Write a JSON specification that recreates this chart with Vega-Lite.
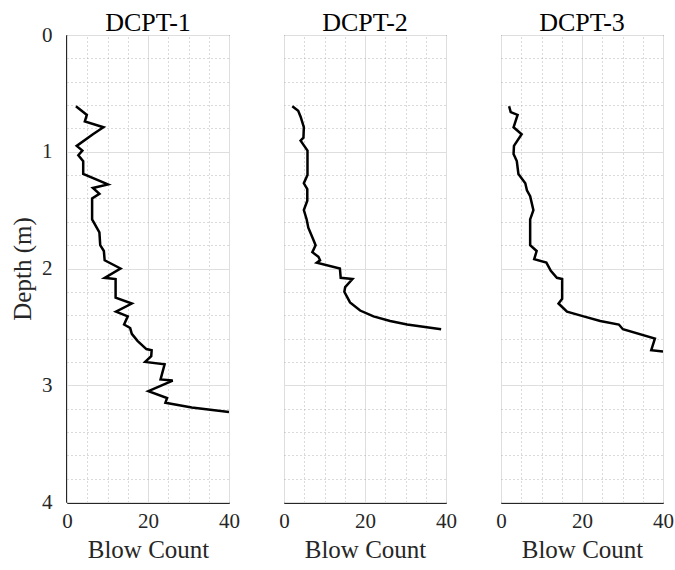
{
  "$schema": "https://vega.github.io/schema/vega-lite/v6.json",
  "background": "white",
  "padding": {"left": 10, "top": 10, "right": 2, "bottom": 2},
  "data": {"values": [
    {"probe": "DCPT-1", "i": 0, "v": 2.2, "d": 0.61},
    {"probe": "DCPT-1", "i": 1, "v": 4.0, "d": 0.66},
    {"probe": "DCPT-1", "i": 2, "v": 4.9, "d": 0.685},
    {"probe": "DCPT-1", "i": 3, "v": 4.4, "d": 0.74},
    {"probe": "DCPT-1", "i": 4, "v": 9.0, "d": 0.79},
    {"probe": "DCPT-1", "i": 5, "v": 6.4, "d": 0.85},
    {"probe": "DCPT-1", "i": 6, "v": 2.4, "d": 0.95},
    {"probe": "DCPT-1", "i": 7, "v": 3.8, "d": 0.99},
    {"probe": "DCPT-1", "i": 8, "v": 2.8, "d": 1.03},
    {"probe": "DCPT-1", "i": 9, "v": 4.0, "d": 1.08},
    {"probe": "DCPT-1", "i": 10, "v": 4.0, "d": 1.19},
    {"probe": "DCPT-1", "i": 11, "v": 10.1, "d": 1.28},
    {"probe": "DCPT-1", "i": 12, "v": 6.4, "d": 1.31},
    {"probe": "DCPT-1", "i": 13, "v": 8.0, "d": 1.36},
    {"probe": "DCPT-1", "i": 14, "v": 6.2, "d": 1.40},
    {"probe": "DCPT-1", "i": 15, "v": 6.2, "d": 1.58},
    {"probe": "DCPT-1", "i": 16, "v": 8.0, "d": 1.69},
    {"probe": "DCPT-1", "i": 17, "v": 8.2, "d": 1.80},
    {"probe": "DCPT-1", "i": 18, "v": 9.1, "d": 1.85},
    {"probe": "DCPT-1", "i": 19, "v": 9.3, "d": 1.93},
    {"probe": "DCPT-1", "i": 20, "v": 13.2, "d": 2.00},
    {"probe": "DCPT-1", "i": 21, "v": 9.3, "d": 2.08},
    {"probe": "DCPT-1", "i": 22, "v": 12.0, "d": 2.09},
    {"probe": "DCPT-1", "i": 23, "v": 12.0, "d": 2.25},
    {"probe": "DCPT-1", "i": 24, "v": 16.0, "d": 2.30},
    {"probe": "DCPT-1", "i": 25, "v": 12.1, "d": 2.37},
    {"probe": "DCPT-1", "i": 26, "v": 15.0, "d": 2.41},
    {"probe": "DCPT-1", "i": 27, "v": 14.1, "d": 2.48},
    {"probe": "DCPT-1", "i": 28, "v": 15.6, "d": 2.51},
    {"probe": "DCPT-1", "i": 29, "v": 16.0, "d": 2.56},
    {"probe": "DCPT-1", "i": 30, "v": 17.4, "d": 2.62},
    {"probe": "DCPT-1", "i": 31, "v": 19.6, "d": 2.69},
    {"probe": "DCPT-1", "i": 32, "v": 20.9, "d": 2.70},
    {"probe": "DCPT-1", "i": 33, "v": 20.8, "d": 2.75},
    {"probe": "DCPT-1", "i": 34, "v": 19.3, "d": 2.80},
    {"probe": "DCPT-1", "i": 35, "v": 24.1, "d": 2.82},
    {"probe": "DCPT-1", "i": 36, "v": 23.1, "d": 2.95},
    {"probe": "DCPT-1", "i": 37, "v": 26.1, "d": 2.96},
    {"probe": "DCPT-1", "i": 38, "v": 20.1, "d": 3.05},
    {"probe": "DCPT-1", "i": 39, "v": 24.7, "d": 3.11},
    {"probe": "DCPT-1", "i": 40, "v": 24.3, "d": 3.15},
    {"probe": "DCPT-1", "i": 41, "v": 30.8, "d": 3.19},
    {"probe": "DCPT-1", "i": 42, "v": 40.0, "d": 3.23},
    {"probe": "DCPT-2", "i": 0, "v": 2.05, "d": 0.61},
    {"probe": "DCPT-2", "i": 1, "v": 3.5, "d": 0.65},
    {"probe": "DCPT-2", "i": 2, "v": 4.1, "d": 0.70},
    {"probe": "DCPT-2", "i": 3, "v": 4.9, "d": 0.79},
    {"probe": "DCPT-2", "i": 4, "v": 4.8, "d": 0.88},
    {"probe": "DCPT-2", "i": 5, "v": 4.1, "d": 0.905},
    {"probe": "DCPT-2", "i": 6, "v": 5.8, "d": 0.99},
    {"probe": "DCPT-2", "i": 7, "v": 5.8, "d": 1.20},
    {"probe": "DCPT-2", "i": 8, "v": 4.9, "d": 1.27},
    {"probe": "DCPT-2", "i": 9, "v": 5.75, "d": 1.32},
    {"probe": "DCPT-2", "i": 10, "v": 5.75, "d": 1.42},
    {"probe": "DCPT-2", "i": 11, "v": 4.9, "d": 1.50},
    {"probe": "DCPT-2", "i": 12, "v": 5.6, "d": 1.58},
    {"probe": "DCPT-2", "i": 13, "v": 6.0, "d": 1.65},
    {"probe": "DCPT-2", "i": 14, "v": 7.2, "d": 1.75},
    {"probe": "DCPT-2", "i": 15, "v": 7.8, "d": 1.80},
    {"probe": "DCPT-2", "i": 16, "v": 7.0, "d": 1.86},
    {"probe": "DCPT-2", "i": 17, "v": 8.5, "d": 1.90},
    {"probe": "DCPT-2", "i": 18, "v": 8.9, "d": 1.93},
    {"probe": "DCPT-2", "i": 19, "v": 8.1, "d": 1.95},
    {"probe": "DCPT-2", "i": 20, "v": 13.8, "d": 2.00},
    {"probe": "DCPT-2", "i": 21, "v": 14.0, "d": 2.08},
    {"probe": "DCPT-2", "i": 22, "v": 16.9, "d": 2.09},
    {"probe": "DCPT-2", "i": 23, "v": 15.1, "d": 2.16},
    {"probe": "DCPT-2", "i": 24, "v": 14.9, "d": 2.20},
    {"probe": "DCPT-2", "i": 25, "v": 16.3, "d": 2.29},
    {"probe": "DCPT-2", "i": 26, "v": 18.8, "d": 2.36},
    {"probe": "DCPT-2", "i": 27, "v": 22.1, "d": 2.41},
    {"probe": "DCPT-2", "i": 28, "v": 26.2, "d": 2.45},
    {"probe": "DCPT-2", "i": 29, "v": 30.4, "d": 2.48},
    {"probe": "DCPT-2", "i": 30, "v": 38.8, "d": 2.52},
    {"probe": "DCPT-3", "i": 0, "v": 2.0, "d": 0.61},
    {"probe": "DCPT-3", "i": 1, "v": 2.4, "d": 0.66},
    {"probe": "DCPT-3", "i": 2, "v": 4.1, "d": 0.685},
    {"probe": "DCPT-3", "i": 3, "v": 3.1, "d": 0.79},
    {"probe": "DCPT-3", "i": 4, "v": 5.1, "d": 0.85},
    {"probe": "DCPT-3", "i": 5, "v": 3.2, "d": 0.95},
    {"probe": "DCPT-3", "i": 6, "v": 3.1, "d": 1.02},
    {"probe": "DCPT-3", "i": 7, "v": 3.9, "d": 1.08},
    {"probe": "DCPT-3", "i": 8, "v": 4.3, "d": 1.19},
    {"probe": "DCPT-3", "i": 9, "v": 6.0, "d": 1.27},
    {"probe": "DCPT-3", "i": 10, "v": 6.4, "d": 1.33},
    {"probe": "DCPT-3", "i": 11, "v": 7.2, "d": 1.38},
    {"probe": "DCPT-3", "i": 12, "v": 8.0, "d": 1.50},
    {"probe": "DCPT-3", "i": 13, "v": 7.2, "d": 1.58},
    {"probe": "DCPT-3", "i": 14, "v": 7.2, "d": 1.80},
    {"probe": "DCPT-3", "i": 15, "v": 8.8, "d": 1.85},
    {"probe": "DCPT-3", "i": 16, "v": 8.2, "d": 1.92},
    {"probe": "DCPT-3", "i": 17, "v": 11.2, "d": 1.95},
    {"probe": "DCPT-3", "i": 18, "v": 12.3, "d": 2.02},
    {"probe": "DCPT-3", "i": 19, "v": 13.8, "d": 2.08},
    {"probe": "DCPT-3", "i": 20, "v": 15.1, "d": 2.09},
    {"probe": "DCPT-3", "i": 21, "v": 15.1, "d": 2.26},
    {"probe": "DCPT-3", "i": 22, "v": 14.2, "d": 2.30},
    {"probe": "DCPT-3", "i": 23, "v": 16.3, "d": 2.37},
    {"probe": "DCPT-3", "i": 24, "v": 20.4, "d": 2.41},
    {"probe": "DCPT-3", "i": 25, "v": 24.5, "d": 2.45},
    {"probe": "DCPT-3", "i": 26, "v": 29.1, "d": 2.48},
    {"probe": "DCPT-3", "i": 27, "v": 30.1, "d": 2.52},
    {"probe": "DCPT-3", "i": 28, "v": 38.0, "d": 2.60},
    {"probe": "DCPT-3", "i": 29, "v": 37.1, "d": 2.70},
    {"probe": "DCPT-3", "i": 30, "v": 40.0, "d": 2.71}
  ]},
  "facet": {
    "column": {
      "field": "probe",
      "type": "nominal",
      "header": {
        "title": null,
        "labelFont": "Liberation Serif",
        "labelFontSize": 26,
        "labelColor": "black",
        "labelPadding": -2
      }
    }
  },
  "spacing": 53,
  "spec": {
    "width": 162,
    "height": 467,
    "mark": {"type": "line", "color": "black", "strokeWidth": 2.5, "clip": true},
    "encoding": {
      "x": {
        "field": "v",
        "type": "quantitative",
        "title": "Blow Count",
        "scale": {"domain": [0, 40], "nice": false, "zero": false},
        "axis": {
          "values": [0, 5, 10, 15, 20, 25, 30, 35, 40],
          "labelExpr": "datum.value % 20 === 0 ? format(datum.value, 'd') : ''",
          "grid": true,
          "gridColor": {"condition": {"test": "datum.value % 20 === 0", "value": "#dedede"}, "value": "#b5b5b5"},
          "gridDash": {"condition": {"test": "datum.value % 20 === 0", "value": []}, "value": [1, 3]},
          "tickOpacity": {"condition": {"test": "datum.value % 20 === 0", "value": 1}, "value": 0},
          "tickSize": -5,
          "labelPadding": 12,
          "titlePadding": 6,
          "labelFlush": false
        }
      },
      "y": {
        "field": "d",
        "type": "quantitative",
        "title": "Depth (m)",
        "scale": {"domain": [0, 4], "reverse": true, "nice": false, "zero": false},
        "axis": {
          "values": [0, 0.2, 0.4, 0.6, 0.8, 1, 1.2, 1.4, 1.6, 1.8, 2, 2.2, 2.4, 2.6, 2.8, 3, 3.2, 3.4, 3.6, 3.8, 4],
          "labelExpr": "datum.value % 1 === 0 ? format(datum.value, 'd') : ''",
          "grid": true,
          "gridColor": {"condition": {"test": "datum.value % 1 === 0", "value": "#dedede"}, "value": "#b5b5b5"},
          "gridDash": {"condition": {"test": "datum.value % 1 === 0", "value": []}, "value": [1, 3]},
          "tickOpacity": {"condition": {"test": "datum.value % 1 === 0", "value": 1}, "value": 0},
          "tickSize": -5,
          "labelPadding": 19,
          "titlePadding": 6,
          "labelFlush": false
        }
      },
      "order": {"field": "i", "type": "quantitative"}
    }
  },
  "config": {
    "view": {"stroke": "#262626", "strokeWidth": 1},
    "font": "Liberation Serif",
    "axis": {
      "labelFont": "Liberation Serif",
      "labelFontSize": 21,
      "labelColor": "#262626",
      "titleFont": "Liberation Serif",
      "titleFontSize": 25,
      "titleFontWeight": "normal",
      "titleColor": "#262626",
      "domainColor": "#262626",
      "tickColor": "#262626",
      "labelOverlap": false
    }
  }
}
